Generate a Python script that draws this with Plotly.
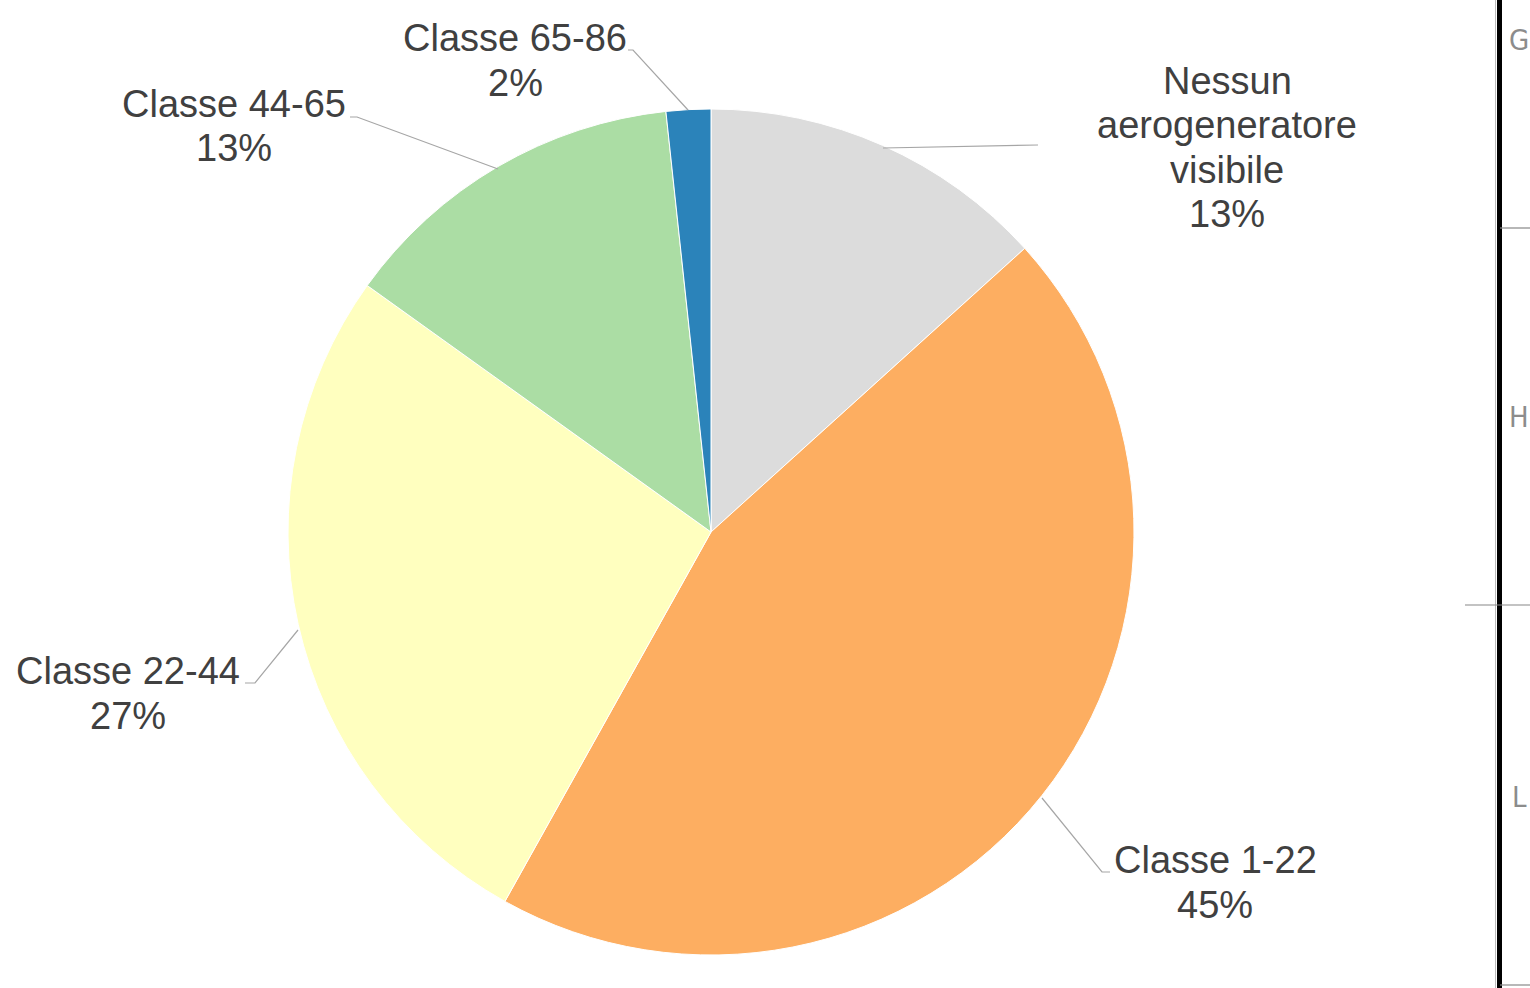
import plotly.graph_objects as go

# ---- data ----
label_lines = [
    ["Nessun", "aerogeneratore", "visibile"],
    ["Classe 1-22"],
    ["Classe 22-44"],
    ["Classe 44-65"],
    ["Classe 65-86"],
]
categories = [" ".join(l) for l in label_lines]
values = [13.3, 44.8, 26.8, 13.4, 1.7]
colors = ["#DCDCDC", "#FDAE61", "#FFFFBF", "#ABDDA4", "#2B83BA"]

W, H = 1530, 988

def px(x):
    return x / W

def py(y):
    return 1 - y / H

# label block positions (pixel coords of first line centre), line step
label_pos = [(1227, 81), (1215, 860), (128, 671), (234, 104), (515, 38)]
line_step = 44.5

# leader lines (pixel coords)
leaders = [
    [(883, 148), (1038, 145)],
    [(1042, 798), (1102, 872), (1110, 872)],
    [(298, 630), (255, 683), (245, 683)],
    [(498, 169), (357, 117), (350, 117)],
    [(688, 110), (633, 50), (628, 50)],
]

total = sum(values)
fig = go.Figure()
fig.add_trace(go.Pie(
    labels=categories,
    values=values,
    sort=False,
    direction="clockwise",
    rotation=0,
    marker=dict(colors=colors, line=dict(color="#FFFFFF", width=1)),
    textinfo="none",
    hoverinfo="label+percent",
    showlegend=False,
    domain=dict(x=[px(288), px(1134)], y=[py(955), py(109)]),
))

annotations = []
for lines, v, (cx, cy) in zip(label_lines, values, label_pos):
    all_lines = lines + [f"{round(100 * v / total)}%"]
    for i, t in enumerate(all_lines):
        annotations.append(dict(
            x=px(cx), y=py(cy + i * line_step), xref="paper", yref="paper",
            text=t, showarrow=False, xanchor="center", yanchor="middle",
            font=dict(family="Liberation Sans, Arial, sans-serif", size=38, color="#404040"),
        ))

shapes = []
for pts in leaders:
    path = "M " + " L ".join(f"{px(x)},{py(y)}" for x, y in pts)
    shapes.append(dict(type="path", path=path, xref="paper", yref="paper",
                       line=dict(color="#A6A6A6", width=1.2)))

# cropped table border on the right edge of the image
shapes.append(dict(type="line", xref="paper", yref="paper", x0=px(1495.5), x1=px(1495.5), y0=0, y1=1,
                   line=dict(color="#BBBBBB", width=1)))
shapes.append(dict(type="line", xref="paper", yref="paper", x0=px(1499.5), x1=px(1499.5), y0=0, y1=1,
                   line=dict(color="#000000", width=5)))
for (x0, y) in [(1500, 228), (1465, 605), (1500, 985)]:
    shapes.append(dict(type="line", xref="paper", yref="paper", x0=px(x0), x1=1, y0=py(y), y1=py(y),
                       line=dict(color="#888888", width=1.2)))
for letter, y in [("G", 40), ("H", 417), ("L", 797)]:
    annotations.append(dict(x=px(1519), y=py(y), xref="paper", yref="paper", text=letter,
                            showarrow=False, xanchor="center", yanchor="middle",
                            font=dict(family="DejaVu Sans Condensed, DejaVu Sans", size=29, color="#8C8C8C")))

fig.update_layout(
    width=W, height=H,
    margin=dict(l=0, r=0, t=0, b=0),
    paper_bgcolor="#FFFFFF",
    plot_bgcolor="#FFFFFF",
    annotations=annotations,
    shapes=shapes,
)

fig.write_html("out.html", config={"displayModeBar": False},
               post_script="document.body.style.margin='0';document.body.style.overflow='hidden';")
